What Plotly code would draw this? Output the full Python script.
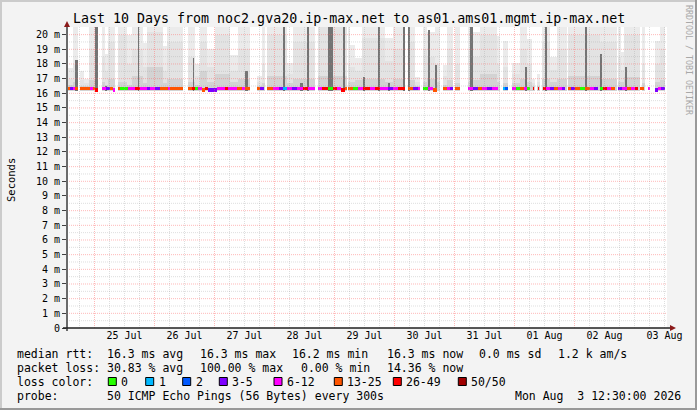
import plotly.graph_objects as go

# ---------------- data ----------------
# time axis: hours since 2026-07-24 13:00, 10 day window
x_span = [0, 240]
day_lines_h = [11 + 24 * k for k in range(9)]          # midnights
day_label_h = [23 + 24 * k for k in range(10)]         # noons
day_labels = ["25 Jul", "26 Jul", "27 Jul", "28 Jul", "29 Jul",
              "30 Jul", "31 Jul", "01 Aug", "02 Aug", "03 Aug"]

y_span = [0, 20.52]
y_tickvals = list(range(21))
y_ticktext = ["0"] + [f"{i} m" for i in range(1, 21)]

# smoke segments (hours) and layer tops (ms); 21 = beyond the top of the graph
seg_start = [0.0, 2.4, 5.2, 6.8, 8.8, 13.9, 15.2, 16.5, 20.4, 24.0, 26.0, 30.4, 32.0, 38.4, 40.0,
             48.5, 51.2, 53.2, 56.0, 59.2, 65.2, 68.4, 76.0, 78.0, 80.0, 88.0, 90.4, 100.4, 112.4,
             113.2, 115.2, 118.0, 127.2, 130.4, 136.4, 139.2, 142.4, 144.0, 147.2, 150.4, 152.0,
             155.2, 160.4, 162.4, 165.2, 172.0, 174.4, 178.0, 181.2, 184.0, 186.0, 188.0, 190.0,
             193.2, 196.0, 200.4, 213.2, 220.4, 221.6, 222.8, 230.0, 235.2, 237.2]
seg_end = [2.4, 4.4, 6.8, 8.8, 12.3, 15.2, 16.5, 19.2, 24.0, 26.0, 30.4, 32.0, 38.4, 40.0, 46.2,
           51.2, 53.2, 56.0, 59.2, 65.2, 68.4, 73.2, 78.0, 79.2, 88.0, 90.4, 99.2, 112.0, 113.2,
           115.2, 118.0, 127.2, 130.4, 135.2, 139.2, 141.2, 144.0, 147.2, 149.2, 152.0, 154.4,
           157.2, 162.4, 165.2, 172.0, 173.2, 176.4, 181.2, 184.0, 186.0, 187.2, 189.2, 193.2,
           196.0, 200.0, 213.2, 220.0, 221.6, 222.8, 229.2, 231.2, 237.2, 239.2]
smoke_top1 = [17.7, 21, 17.5, 17.0, 21, 21, 18.7, 21, 21, 20.0, 21, 19.4, 21, 19.2, 21,
              21, 18.0, 21, 19.0, 21, 18.6, 21, 17.2, 21, 21, 18.1, 21, 21, 21,
              19.3, 18.4, 21, 19.8, 21, 21, 17.1, 21, 20.2, 21, 17.9, 21,
              21, 21, 20.2, 21, 19.9, 19.6, 18.1, 21, 19.7, 17.0, 17.3, 21,
              18.5, 21, 21, 21, 21, 18.8, 21, 21, 19.6, 21]
smoke_top2 = [17.0, 18.0, 16.9, 16.7, 19.0, 18.5, 17.5, 19.5, 20.0, 18.0, 19.0, 17.8, 20.2, 17.5, 19.5,
              18.5, 17.2, 19.5, 17.8, 20.0, 17.5, 19.0, 16.8, 18.0, 20.0, 17.3, 19.5, 20.5, 18.0,
              17.8, 17.5, 19.8, 18.2, 19.0, 19.5, 16.8, 19.0, 18.5, 18.0, 17.2, 19.0,
              18.0, 19.0, 18.5, 20.0, 18.0, 17.8, 17.3, 19.0, 18.0, 16.7, 16.8, 19.5,
              17.6, 19.0, 20.0, 19.5, 18.5, 17.6, 20.0, 18.0, 18.0, 19.0]
smoke_top3 = [16.6, 16.8, 16.5, 16.5, 16.9, 16.8, 16.6, 17.0, 16.8, 16.6, 17.2, 16.7, 17.8, 16.7, 17.0,
              16.8, 16.6, 17.5, 16.8, 17.3, 16.8, 17.0, 16.5, 16.7, 17.2, 16.7, 17.0, 17.2, 16.8,
              16.8, 16.9, 17.0, 16.8, 17.0, 16.9, 16.5, 16.8, 17.0, 16.8, 16.6, 16.9,
              16.7, 16.8, 16.9, 17.3, 16.8, 16.7, 16.7, 17.0, 16.8, 16.5, 16.5, 17.0,
              16.8, 17.0, 17.2, 17.0, 16.8, 16.8, 17.1, 16.7, 16.8, 16.9]
smoke_floor = 16.15

# dense high-rtt spikes: centre hour, duration (h), top (ms)
spike_h = [3.8, 11.7, 15.6, 28.6, 50.6, 71.8, 86.8, 93.8, 96.4, 105.4, 110.8, 118.8, 124.8,
           128.8, 134.8, 136.8, 144.8, 147.6, 161.8, 183.6, 191.6, 207.6, 213.6, 223.6]
spike_w = [1.0, 1.0, 0.6, 0.7, 0.7, 1.0, 0.8, 1.0, 0.8, 2.0, 0.8, 0.8, 0.8,
           0.8, 0.8, 0.8, 0.8, 0.8, 1.0, 0.8, 0.8, 0.8, 0.8, 0.8]
spike_top = [18.3, 21, 16.5, 21, 18.4, 17.5, 21, 16.7, 21, 21, 21, 17.1, 21,
             16.7, 21, 21, 20.3, 17.9, 21, 17.8, 21, 21, 18.7, 17.8]

# median rtt, coloured by loss class: chunk boundaries (hours) and loss class per chunk
med_bounds = [[0, 1.2, 2.3, 3.2, 4.4], [5.2, 9.2, 10.5, 11.2, 12.3], [13.9, 15.6, 17.2, 18.5, 19.2],
              [20.4, 21.2, 24.5, 27.2, 29.2, 31.9, 33.2, 35.2, 37.2, 40.5, 41.2, 46.2],
              [48.5, 49.9, 51.2, 52.5, 53.9, 55.2, 56.5, 59.9, 63.2, 64.5, 67.9, 69.9, 71.2, 73.2],
              [76, 77.2, 78.8], [80, 82.4, 84.8, 86.4, 88, 90, 92, 94.4, 96.4, 99.2],
              [100.4, 102, 104.4, 106.4, 108, 109.6, 111.2, 112],
              [112.4, 114.4, 116.4, 118.4, 121.2, 123.2, 125.2, 128.4, 130.4, 132.4, 135.2],
              [136.4, 138.4, 140.4, 141.2], [142.4, 144.4, 146.4, 148], [150.4, 152, 153.2, 154.4],
              [155.2, 157.2], [160.4, 162.4, 164.4, 166, 168, 170, 172.4], [174.4, 175.2, 176.4],
              [178, 179.6, 181.2, 182.8, 184, 185.2], [186.2, 186.8], [188.2, 188.8],
              [190.4, 191.6, 193.2, 194.8, 196.4, 198, 199.2],
              [200.4, 201.6, 203.2, 205.2, 207.2, 209.2, 210.8, 212.4],
              [213.2, 214.4, 216, 217.6, 219.2], [220.4, 222, 224, 225.6, 227.2, 228.4],
              [229.2, 230.8], [232.4, 233.2], [235.2, 236.4, 237.6, 239.2]]
med_classes = [[5, 3, 4, 5], [5, 4, 5, 6], [4, 3, 5, 4], [5, 0, 4, 6, 4, 3, 4, 3, 5, 4, 5],
               [5, 6, 0, 4, 5, 6, 3, 4, 6, 4, 5, 4, 5], [5, 3], [5, 4, 3, 1, 4, 3, 4, 6, 4],
               [4, 6, 0, 6, 4, 6, 5], [5, 0, 4, 6, 4, 6, 4, 3, 4, 6], [5, 3, 4], [0, 4, 5], [5, 4, 3],
               [5], [4, 3, 5, 4, 3, 4], [1, 2], [4, 0, 5, 4, 0], [6], [6], [6, 4, 3, 5, 4, 3],
               [5, 3, 5, 0, 5, 4, 3], [0, 6, 4, 5], [3, 4, 5, 4, 6], [5], [4], [3, 4, 3]]
med_rtt = 16.3
med_low_starts = [11.2, 18.5, 53.9, 56.5, 146.4, 109.6, 235.2]
med_low_rtt = 16.22

loss_labels = ["0", "1", "2", "3-5", "6-12", "13-25", "26-49", "50/50"]
loss_colors = ["#26ff00", "#00b8ff", "#0059ff", "#7e00ff", "#ff00ff", "#ff5500", "#ff0000", "#a10000"]

title = "Last 10 Days from noc2.gva20.ip-max.net to as01.ams01.mgmt.ip-max.net"
stats_rtt = ["16.3 ms avg", "16.3 ms max", "16.2 ms min", "16.3 ms now", "0.0 ms sd", "1.2 k am/s"]
stats_loss = ["30.83 % avg", "100.00 % max", "0.00 % min", "14.36 % now"]
probe_text = "50 ICMP Echo Pings (56 Bytes) every 300s"
stamp_text = "Mon Aug  3 12:30:00 2026"

# ---------------- layout helpers ----------------
W, H = 697, 410
PL, PR, PT, PB = 67, 667, 27, 328
MONO = "DejaVu Sans Mono"


def px(x):
    return (x - PL) / (PR - PL)


def py(y):
    return (PB - y) / (PB - PT)


fig = go.Figure()

# smoke layers
xc = [(a + b) / 2 for a, b in zip(seg_start, seg_end)]
wd = [b - a for a, b in zip(seg_start, seg_end)]
for tops, col in [(smoke_top1, "#ebebeb"), (smoke_top2, "#e3e3e3"), (smoke_top3, "#d3d3d3")]:
    fig.add_bar(x=xc, width=wd, base=[smoke_floor] * len(xc),
                y=[t - smoke_floor for t in tops],
                marker=dict(color=col, line=dict(width=0)), hoverinfo="skip", showlegend=False)

fig.add_bar(x=spike_h, width=spike_w, base=[smoke_floor] * len(spike_h),
            y=[t - smoke_floor for t in spike_top],
            marker=dict(color="#747474", line=dict(width=0)), hoverinfo="skip", showlegend=False)

# median line
mx, mw, mb, mc = [], [], [], []
for bounds, cls in zip(med_bounds, med_classes):
    for i, c in enumerate(cls):
        a, b = bounds[i], bounds[i + 1]
        v = med_low_rtt if a in med_low_starts else med_rtt
        mx.append((a + b) / 2)
        mw.append(b - a)
        mb.append(v - 0.1)
        mc.append(loss_colors[c])
fig.add_bar(x=mx, width=mw, base=mb, y=[0.22] * len(mx),
            marker=dict(color=mc, line=dict(width=0)), hoverinfo="skip", showlegend=False)

shapes = []
# grid (drawn above the graph like rrdtool)
minor_col = "rgba(160,160,160,0.35)"
major_col = "rgba(255,100,100,0.45)"
h = 5
while h < 240:
    if h not in day_lines_h:
        shapes.append(dict(type="line", xref="x", yref="paper", x0=h, x1=h, y0=0, y1=1,
                           line=dict(color=minor_col, width=1, dash="1px,1px"), layer="above"))
    h += 6
for h in day_lines_h:
    shapes.append(dict(type="line", xref="x", yref="paper", x0=h, x1=h, y0=0, y1=1,
                       line=dict(color=major_col, width=1, dash="1px,1px"), layer="above"))
for k in range(41):
    v = 0.5 * k
    if v == 0 or v > 20:
        continue
    col = major_col if k % 2 == 0 else minor_col
    shapes.append(dict(type="line", xref="paper", yref="y", x0=0, x1=1, y0=v, y1=v,
                       line=dict(color=col, width=1, dash="1px,1px"), layer="above"))

# axes lines + arrows
shapes.append(dict(type="line", xref="paper", yref="paper", x0=px(67), x1=px(67), y0=py(331), y1=py(24),
                   line=dict(color="#6a6a6a", width=2), layer="above"))
shapes.append(dict(type="line", xref="paper", yref="paper", x0=px(63), x1=px(670), y0=py(328), y1=py(328),
                   line=dict(color="#202020", width=1.5), layer="above"))
shapes.append(dict(type="path", xref="paper", yref="paper",
                   path=f"M {px(64)} {py(27)} L {px(70)} {py(27)} L {px(67)} {py(21)} Z",
                   fillcolor="#8b1a1a", line=dict(width=0), layer="above"))
shapes.append(dict(type="path", xref="paper", yref="paper",
                   path=f"M {px(670)} {py(325)} L {px(670)} {py(331)} L {px(676)} {py(328)} Z",
                   fillcolor="#8b1a1a", line=dict(width=0), layer="above"))

# image border
shapes.append(dict(type="line", xref="paper", yref="paper", x0=px(0), x1=px(697), y0=py(1), y1=py(1),
                   line=dict(color="#cbcbcb", width=2), layer="above"))
shapes.append(dict(type="line", xref="paper", yref="paper", x0=px(1), x1=px(1), y0=py(0), y1=py(410),
                   line=dict(color="#cbcbcb", width=2), layer="above"))
shapes.append(dict(type="line", xref="paper", yref="paper", x0=px(0), x1=px(697), y0=py(409), y1=py(409),
                   line=dict(color="#999999", width=2), layer="above"))
shapes.append(dict(type="line", xref="paper", yref="paper", x0=px(696), x1=px(696), y0=py(0), y1=py(410),
                   line=dict(color="#999999", width=2), layer="above"))

# loss colour legend boxes
box_x = [108.3, 145.7, 182.7, 219.3, 274, 334.3, 393.3, 458.3]
annotations = []
for bx, lab, col in zip(box_x, loss_labels, loss_colors):
    shapes.append(dict(type="rect", xref="paper", yref="paper", x0=px(bx), x1=px(bx + 8),
                       y0=py(385.5), y1=py(377.5), fillcolor=col, line=dict(color="#000000", width=1)))
    annotations.append(dict(x=px(bx + 13), y=py(382), text=lab))


def txt(x, y, s):
    annotations.append(dict(x=px(x), y=py(y), text=s))


txt(16.7, 354, "median rtt:")
for xx, s in zip([107.3, 200, 292.3, 387, 479.3, 558.3], stats_rtt):
    txt(xx, 354, s)
txt(16.7, 368, "packet loss:")
for xx, s in zip([107.3, 200, 301, 387], stats_loss):
    txt(xx, 368, s)
txt(16.7, 382, "loss color:")
txt(16.7, 396, "probe:")
txt(107.3, 396, probe_text)

anns = []
for a in annotations:
    anns.append(dict(xref="paper", yref="paper", xanchor="left", yanchor="middle", showarrow=False,
                     borderpad=0, borderwidth=0, font=dict(family=MONO, size=11.5, color="#000000"), **a))
anns.append(dict(xref="paper", yref="paper", x=px(681.5), y=py(396), xanchor="right", yanchor="middle",
                 showarrow=False, borderpad=0, text=stamp_text, font=dict(family=MONO, size=11.5, color="#000")))
anns.append(dict(xref="paper", yref="paper", x=px(72), y=py(18.5), xanchor="left", yanchor="middle",
                 showarrow=False, borderpad=0, text=title, font=dict(family=MONO, size=13.3, color="#000")))
anns.append(dict(xref="paper", yref="paper", x=px(11), y=py(180), xanchor="center", yanchor="middle",
                 showarrow=False, borderpad=0, text="Seconds", textangle=-90,
                 font=dict(family=MONO, size=10.5, color="#000")))
anns.append(dict(xref="paper", yref="paper", x=px(689), y=py(60), xanchor="center", yanchor="middle",
                 showarrow=False, borderpad=0, text="RRDTOOL / TOBI OETIKER", textangle=90,
                 font=dict(family=MONO, size=8.3, color="#a8a8a8")))

fig.update_layout(
    width=W, height=H, autosize=False,
    margin=dict(l=PL, r=W - PR, t=PT, b=H - PB, pad=0),
    paper_bgcolor="#f3f3f3", plot_bgcolor="#ffffff",
    barmode="overlay", bargap=0, showlegend=False,
    shapes=shapes, annotations=anns,
    xaxis=dict(range=x_span, showgrid=False, zeroline=False, showline=False,
               tickmode="array", tickvals=day_label_h, ticktext=day_labels, ticks="",
               tickfont=dict(family=MONO, size=10, color="#000"), fixedrange=True),
    yaxis=dict(range=y_span, showgrid=False, zeroline=False, showline=False,
               tickmode="array", tickvals=y_tickvals, ticktext=y_ticktext,
               ticks="outside", ticklen=4, tickcolor="#404040",
               tickfont=dict(family=MONO, size=10, color="#000"), fixedrange=True),
)

fig.write_html("out.html", config={"displayModeBar": False, "staticPlot": True},
               post_script="document.body.style.margin='0';document.body.style.padding='0';")
